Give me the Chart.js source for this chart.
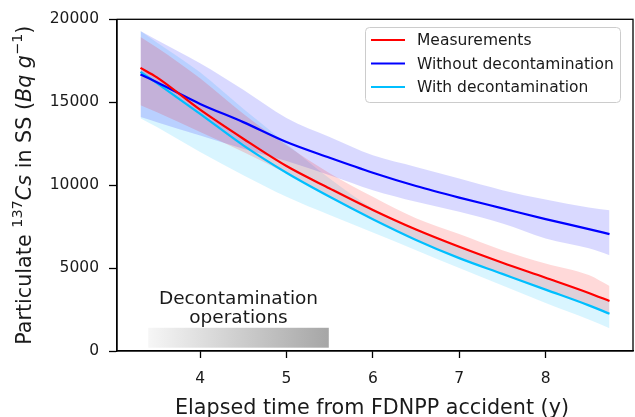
<!DOCTYPE html>
<html>
<head>
<meta charset="utf-8">
<script src="https://cdn.jsdelivr.net/npm/chart.js@4/dist/chart.umd.min.js"></script>
<style>
html,body{margin:0;padding:0;background:#fff;}
#wrap{width:635px;height:417px;}
</style>
</head>
<body>
<div id="wrap"><canvas id="c" width="635" height="417"></canvas></div>
<script>
// ---- data ----
const years = [3.31, 3.5, 4, 4.5, 5, 5.5, 6, 6.5, 7, 7.5, 8, 8.5, 8.74];
const measured     = [17070, 16500, 14550, 12800, 11150, 9800, 8500, 7320, 6280, 5320, 4420, 3500, 3010];
const measuredLow  = [14820, 14400, 13200, 12000, 10700, 9300, 7950, 6700, 5600, 4650, 3700, 2750, 2250];
const measuredHigh = [18930, 18300, 16440, 14300, 12400, 10720, 9300, 8010, 7050, 6080, 5280, 4580, 3920];
const withoutDecon     = [16670, 16200, 14900, 13800, 12600, 11650, 10750, 9950, 9250, 8600, 7950, 7350, 7050];
const withoutDeconLow  = [14110, 13800, 13000, 12200, 11450, 10600, 9700, 9000, 8390, 7690, 6790, 6190, 5780];
const withoutDeconHigh = [19300, 18750, 17350, 15750, 14050, 12900, 11800, 11100, 10400, 9700, 9130, 8650, 8490];
const withDecon     = [16830, 16150, 14300, 12400, 10750, 9300, 7950, 6700, 5600, 4650, 3700, 2750, 2250];
const withDeconLow  = [14040, 13500, 12000, 10600, 9300, 8200, 7150, 6080, 5000, 3950, 2900, 1900, 1370];
const withDeconHigh = [19300, 18600, 16800, 14600, 12500, 10400, 8600, 7350, 6300, 5320, 4420, 3500, 3030];
const xTicks = [4, 5, 6, 7, 8];
const yTicks = [0, 5000, 10000, 15000, 20000];
const seriesNames = ['Measurements', 'Without decontamination', 'With decontamination'];
const deconPeriod = [3.40, 5.49];
const deconBand = [200, 1400];
const deconLabel = ['Decontamination', 'operations'];
const xTitle = 'Elapsed time from FDNPP accident (y)';

const colors = ['#ff0000', '#0000ff', '#00bfff'];
const fills = ['rgba(255,0,0,0.15)', 'rgba(0,0,255,0.15)', 'rgba(0,191,255,0.15)'];
const FONT = '"DejaVu Sans", sans-serif';

function pts(arr){ return years.map((x,i)=>({x:x, y:arr[i]})); }
function lineDs(label, arr, color){
  return {label, data: pts(arr), borderColor: color, borderWidth: 2.2, pointRadius: 0, fill: false, cubicInterpolationMode: 'monotone'};
}
function edgeDs(label, arr, fill, bg){
  return {label, data: pts(arr), borderColor: 'rgba(0,0,0,0)', borderWidth: 1, pointRadius: 0, fill: fill, backgroundColor: bg, cubicInterpolationMode: 'monotone'};
}

const datasets = [
  lineDs(seriesNames[0], measured, colors[0]),
  lineDs(seriesNames[1], withoutDecon, colors[1]),
  lineDs(seriesNames[2], withDecon, colors[2]),
  edgeDs('_m_lo', measuredLow, false),
  edgeDs('_m_hi', measuredHigh, '-1', fills[0]),
  edgeDs('_wo_lo', withoutDeconLow, false),
  edgeDs('_wo_hi', withoutDeconHigh, '-1', fills[1]),
  edgeDs('_w_lo', withDeconLow, false),
  edgeDs('_w_hi', withDeconHigh, '-1', fills[2])
];

const decoPlugin = {
  id: 'deco',
  beforeDatasetsDraw(chart){
    const {ctx, scales:{x, y}} = chart;
    const x0 = x.getPixelForValue(deconPeriod[0]), x1 = x.getPixelForValue(deconPeriod[1]);
    const y0 = y.getPixelForValue(deconBand[1]), y1 = y.getPixelForValue(deconBand[0]);
    ctx.save();
    const g = ctx.createLinearGradient(x0, 0, x1, 0);
    g.addColorStop(0, '#f6f6f6');
    g.addColorStop(1, '#a6a6a6');
    ctx.fillStyle = g;
    ctx.fillRect(x0, y0, x1 - x0, y1 - y0);
    ctx.fillStyle = '#1a1a1a';
    ctx.font = '18.5px ' + FONT;
    ctx.textAlign = 'center';
    ctx.textBaseline = 'alphabetic';
    const cx = (x0 + x1) / 2;
    ctx.fillText(deconLabel[0], cx, 304);
    ctx.fillText(deconLabel[1], cx, 323);
    ctx.restore();
  },
  afterDraw(chart){
    const {ctx, chartArea:a} = chart;
    ctx.save();
    ctx.strokeStyle = '#000';
    ctx.lineWidth = 1.3;
    ctx.strokeRect(a.left, a.top, a.right - a.left, a.bottom - a.top);
    // legend
    const lx = 365.5, ly = 27.5, lw = 255, lh = 75, r = 4;
    ctx.beginPath();
    ctx.moveTo(lx + r, ly);
    ctx.arcTo(lx + lw, ly, lx + lw, ly + lh, r);
    ctx.arcTo(lx + lw, ly + lh, lx, ly + lh, r);
    ctx.arcTo(lx, ly + lh, lx, ly, r);
    ctx.arcTo(lx, ly, lx + lw, ly, r);
    ctx.closePath();
    ctx.fillStyle = 'rgba(255,255,255,0.8)';
    ctx.fill();
    ctx.strokeStyle = '#cccccc';
    ctx.lineWidth = 1;
    ctx.stroke();
    ctx.font = '15.5px ' + FONT;
    ctx.textBaseline = 'middle';
    ctx.textAlign = 'left';
    const rows = [40, 63.5, 87];
    for (let i = 0; i < 3; i++){
      ctx.strokeStyle = colors[i];
      ctx.lineWidth = 2.2;
      ctx.beginPath();
      ctx.moveTo(371, rows[i]);
      ctx.lineTo(405, rows[i]);
      ctx.stroke();
      ctx.fillStyle = '#1a1a1a';
      ctx.fillText(seriesNames[i], 417, rows[i] + 1);
    }
    // x title
    ctx.font = '20.7px ' + FONT;
    ctx.textAlign = 'center';
    ctx.textBaseline = 'alphabetic';
    ctx.fillStyle = '#1a1a1a';
    ctx.fillText(xTitle, (a.left + a.right) / 2 - 3, 414);
    // y title with superscripts / italics
    const fs = 20.7;
    const segs = [
      {t:'Particulate ', f: fs+'px '+FONT, dy:0},
      {t:'137', f: (fs*0.7)+'px '+FONT, dy:-fs*0.42},
      {t:'Cs', f: 'italic '+fs+'px '+FONT, dy:0},
      {t:' in SS (', f: fs+'px '+FONT, dy:0},
      {t:'Bq g', f: 'italic '+fs+'px '+FONT, dy:0},
      {t:'\u22121', f: (fs*0.7)+'px '+FONT, dy:-fs*0.42},
      {t:')', f: fs+'px '+FONT, dy:0}
    ];
    let total = 0;
    segs.forEach(s => { ctx.font = s.f; s.w = ctx.measureText(s.t).width; total += s.w; });
    ctx.translate(31, (a.top + a.bottom) / 2);
    ctx.rotate(-Math.PI/2);
    ctx.textAlign = 'left';
    let px = -total/2;
    segs.forEach(s => { ctx.font = s.f; ctx.fillText(s.t, px, s.dy); px += s.w; });
    ctx.restore();
  }
};

new Chart(document.getElementById('c'), {
  type: 'line',
  data: { datasets },
  options: {
    responsive: false,
    animation: false,
    layout: { padding: { left: 0, right: 2, top: 19, bottom: 0 } },
    plugins: { legend: { display: false }, tooltip: { enabled: false } },
    scales: {
      x: {
        type: 'linear',
        min: 3.038, max: 9.012,
        afterBuildTicks(s){ s.ticks = xTicks.map(v => ({value: v})); },
        afterFit(s){ s.height = 66; },
        grid: { display: true, drawOnChartArea: false, drawTicks: true, tickLength: 7, tickWidth: 1.3, tickColor: '#000' },
        border: { display: true, color: '#000', width: 1.3 },
        ticks: { color: '#1a1a1a', font: { family: FONT, size: 15.5 }, padding: 12, maxRotation: 0, callback: v => String(v) }
      },
      y: {
        type: 'linear',
        min: 0, max: 20000,
        afterBuildTicks(s){ s.ticks = yTicks.map(v => ({value: v})); },
        afterFit(s){ s.width = 117; },
        grid: { display: true, drawOnChartArea: false, drawTicks: true, tickLength: 8, tickWidth: 1.3, tickColor: '#000' },
        border: { display: true, color: '#000', width: 1.3 },
        ticks: { color: '#1a1a1a', font: { family: FONT, size: 15.5 }, padding: 10, callback: v => String(v) }
      }
    }
  },
  plugins: [decoPlugin]
});
</script>
</body>
</html>
